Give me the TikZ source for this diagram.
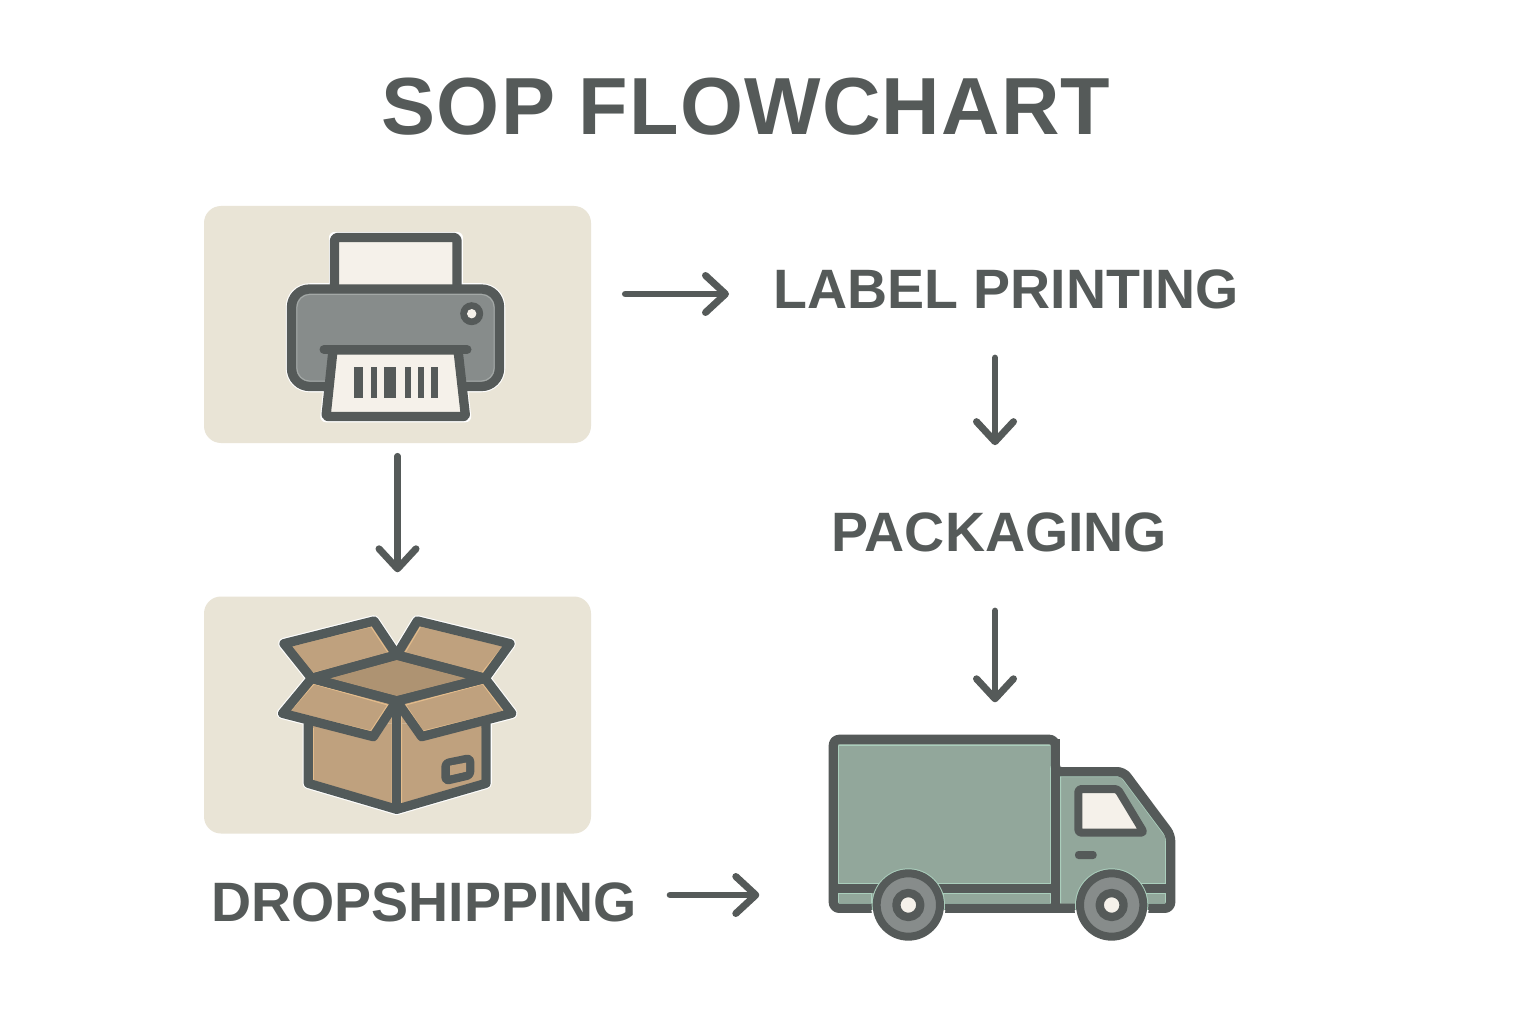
\documentclass[tikz,border=0pt]{standalone}
\usepackage{fontspec}
\setmainfont{Liberation Sans}
\usetikzlibrary{arrows.meta}
\definecolor{ink}{HTML}{555A59}
\definecolor{panelc}{HTML}{E9E4D6}
\definecolor{paperc}{HTML}{F5F1EA}
\definecolor{bodyc}{HTML}{878C8B}
\definecolor{bodye}{HTML}{A3A8A6}
\definecolor{kraft}{HTML}{BFA17E}
\definecolor{kraftd}{HTML}{AE9372}
\definecolor{krafte}{HTML}{E3BC8C}
\definecolor{sage}{HTML}{92A79B}
\definecolor{sagee}{HTML}{AACEBC}
\definecolor{boxink}{HTML}{525A5A}
\tikzset{
  panel/.style={rectangle,fill=panelc,rounded corners=17pt,minimum width=387pt,minimum height=237pt,inner sep=0pt},
  heading/.style={inner sep=0pt,text=ink,font=\fontsize{81}{81}\selectfont\bfseries\addfontfeatures{LetterSpace=1.5}},
  stage/.style={inner sep=0pt,text=ink,font=\fontsize{55.5}{56}\selectfont\bfseries},
  flow/.style={draw=ink,line width=6.5pt,line cap=round,-{Straight Barb[length=20pt,width=37pt,line width=7pt,round]}},
  halo/.style={draw=white,line width=11.5pt,line join=round},
  ol/.style={draw=ink,line width=9.3pt,line join=round},
  zoomed/.style={x=0.33333pt,y=-0.33333pt},
}
\newcommand{\boxflaps}[1]{%
  \path[#1] (325,385)--(325,565)--(590,643)--(858,565)--(858,385);
  \path[#1] (252,146)--(522,78)--(590,180)--(335,250)--cycle;
  \path[#1] (652,78)--(930,146)--(855,250)--(590,180)--cycle;
  \path[#1] (590,180)--(855,250)--(590,318)--(335,250)--cycle;
  \path[#1] (335,250)--(590,318)--(520,425)--(248,355)--cycle;
  \path[#1] (855,250)--(935,355)--(665,425)--(590,318)--cycle;
}
\newcommand{\truckhull}[1]{%
  \path[#1,rounded corners=6pt] (40,550)--(40,43)--(706,43)--(706,140)--(910,140)--(1052,330)--(1052,550)--cycle;
}
\newcommand{\truckwheel}[1]{%
  \fill[sagee] (#1,540) circle (110);
  \begin{scope}
    \clip (#1-130,556) rectangle (#1+130,680);
    \fill[white] (#1,540) circle (112);
  \end{scope}
  \draw[fill=bodyc,draw=ink,line width=8pt] (#1,540) circle (95);
  \draw[fill=paperc,draw=ink,line width=8.3pt] (#1,540) circle (36);
}
\begin{document}
\begin{tikzpicture}[x=1pt,y=-1pt,line join=round]
\useasboundingbox (0,0) rectangle (1536,1024);
\fill[white] (0,0) rectangle (1536,1024);

\node[heading] (title) at (746,107) {SOP FLOWCHART};
\node[panel] (panelprint) at (397.5,324.5) {};
\node[panel] (panelbox) at (397.5,715) {};
\node[stage,anchor=west] (labeltext) at (773,289) {LABEL PRINTING};
\node[stage,anchor=center] (packtext) at (999.5,532) {PACKAGING};
\node[stage,anchor=west] (droptext) at (211,902) {DROPSHIPPING};
\node[inner sep=0pt,minimum width=345pt,minimum height=205pt] (truck) at (1002,838) {};
\coordinate (colright) at (995,0);
\coordinate (rowlabel) at (0,294);
\coordinate (rowdrop) at (0,895);

% printer
\draw[halo] (334.5,285)--(334.5,237.5)--(457,237.5)--(457,285);
\draw[halo,rounded corners=18pt] (291.5,289) rectangle (499.5,386.5);
\draw[halo] (333,352)--(458,352)--(465.5,416.5)--(326,416.5)--cycle;
\draw[ol,fill=paperc,rounded corners=3pt] (334.5,289)--(334.5,237.5)--(457,237.5)--(457,289);
\draw[ol,fill=bodyc,rounded corners=18pt] (291.5,289) rectangle (499.5,386.5);
\draw[bodye,line width=1pt,rounded corners=13pt] (296.9,294.4) rectangle (494.1,381.1);
\draw[ol,fill=paperc,rounded corners=2pt] (333,350)--(458,350)--(465.5,416.5)--(326,416.5)--cycle;
\draw[line width=9pt,draw=ink,line cap=round] (324,349.5)--(467,349.5);
\fill[ink] (471.7,313.7) circle (11.5);
\fill[paperc] (471.7,313.7) circle (4.7);
\foreach \a/\b in {354/363,371/377,384/396.3,405/411,417.7/423.7,431/437.7}
  \fill[ink] (\a,367) rectangle (\b,397.7);

% open box
\begin{scope}[shift={(200,595)},zoomed]
  \boxflaps{draw=white,line width=11.5pt,line join=round}
  \fill[kraft] (325,385)--(590,318)--(858,385)--cycle;
  \boxflaps{fill=kraft}
  \fill[kraftd] (590,180)--(855,250)--(590,318)--(335,250)--cycle;
  \draw[krafte,line width=1pt] (340,399)--(340,557)--(576,627)--(576,365);
  \draw[krafte,line width=1pt] (605,365)--(605,627)--(845,557)--(845,399);
  \draw[krafte,line width=1pt] (274,153)--(513,95)--(568,178)--(335,235)--cycle;
  \draw[krafte,line width=1pt] (662,94)--(910,153)--(846,233)--(612,178)--cycle;
  \draw[krafte,line width=1pt] (342,267)--(563,330)--(512,408)--(270,349)--cycle;
  \draw[krafte,line width=1pt] (848,267)--(910,349)--(669,408)--(617,330)--cycle;
  \boxflaps{draw=boxink,line width=9.3pt,line join=round}
  \draw[boxink,line width=9.3pt] (590,318)--(590,643);
  \draw[boxink,line width=8.5pt,rounded corners=3pt,fill=kraftd] (737,505)--(810,490)--(810,540)--(737,557)--cycle;
  \fill[kraft] (750,512)--(798,503)--(798,530)--(750,541)--cycle;
\end{scope}

% truck
\begin{scope}[shift={(820,725)},zoomed]
  \truckhull{draw=white,line width=11.5pt}
  \truckhull{fill=sage}
  \draw[sagee,line width=1pt] (56,476)--(56,60)--(691,60)--(691,476)--cycle;
  \draw[sagee,line width=1pt] (56,506) rectangle (155,535);
  \draw[sagee,line width=1pt] (370,506) rectangle (691,535);
  \draw[sagee,line width=1pt] (980,506) rectangle (1037,535);
  \draw[sagee,line width=1pt] (722,535)--(722,155)--(903,155)--(1037,335)--(1037,476)--(960,476);
  \truckhull{draw=ink,line width=9.3pt}
  \draw[ink,line width=9.3pt] (706,43)--(706,550);
  \draw[ink,line width=9.3pt] (40,490)--(706,490);
  \draw[ink,line width=9.3pt] (950,490)--(1052,490);
  \draw[ink,line width=8pt,fill=paperc,rounded corners=3pt] (775,192)--(893,192)--(972,323)--(775,323)--cycle;
  \fill[ink,rounded corners=3.5pt] (765,378) rectangle (830,402);
  \truckwheel{265}
  \truckwheel{875}
\end{scope}

% connectors
\draw[flow,shorten <=34pt,shorten >=44pt] (panelprint.east |- rowlabel) -- (labeltext.west |- rowlabel);
\draw[flow,shorten <=49pt,shorten >=67pt] (colright |- labeltext.south) -- (colright |- packtext.north);
\draw[flow,shorten <=59pt,shorten >=33pt] (colright |- packtext.south) -- (colright |- truck.north);
\draw[flow,shorten <=13pt,shorten >=24pt] (panelprint.south) -- (panelbox.north);
\draw[flow,shorten <=33pt,shorten >=70pt] (droptext.east |- rowdrop) -- (truck.west |- rowdrop);
\end{tikzpicture}
\end{document}
